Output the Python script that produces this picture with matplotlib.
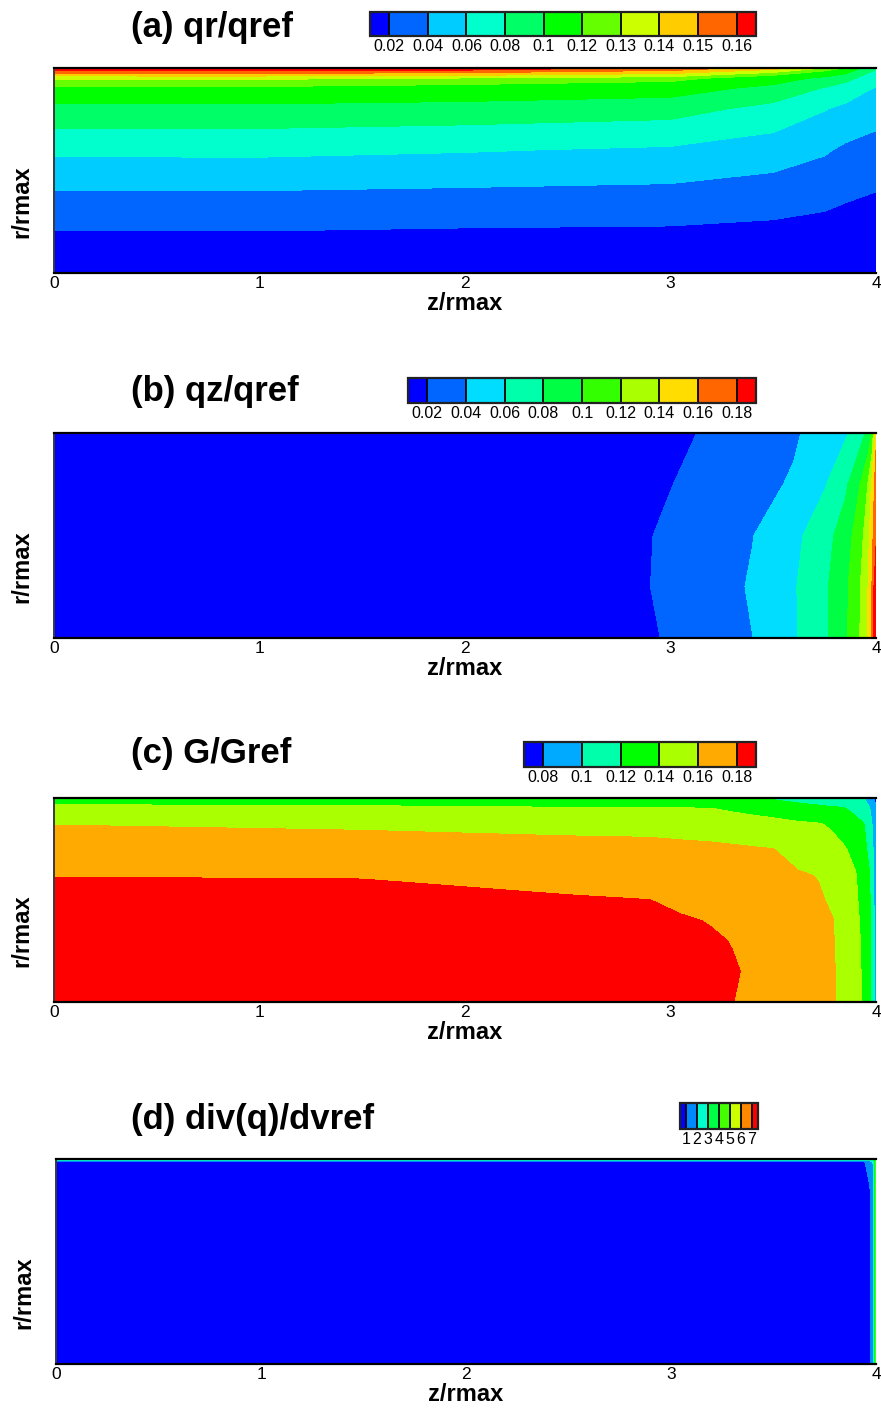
import numpy as np
import matplotlib
matplotlib.use("Agg")
from matplotlib import pyplot as plt

plt.rcParams['font.family'] = ['Liberation Sans', 'DejaVu Sans']

# ---------------- (a) qr/qref ----------------
a_z = [0, 1, 2, 3, 3.5, 3.75, 3.85, 4.0]
a_r = [0, 0.2, 0.4, 0.6, 0.8, 0.9, 0.95, 1.0]
# one row per z station (values along r), transposed below
a_val_by_z = [
    [0, 0.0195, 0.0395, 0.0640, 0.0940, 0.1170, 0.1315, 0.170],
    [0, 0.0195, 0.0398, 0.0643, 0.0943, 0.1172, 0.1317, 0.170],
    [0, 0.0180, 0.0380, 0.0614, 0.0917, 0.1143, 0.1290, 0.168],
    [0, 0.0172, 0.0362, 0.0573, 0.0878, 0.1092, 0.1250, 0.158],
    [0, 0.0150, 0.0317, 0.0500, 0.0736, 0.0938, 0.1100, 0.145],
    [0, 0.0130, 0.0269, 0.0422, 0.0609, 0.0784, 0.0950, 0.130],
    [0, 0.0115, 0.0235, 0.0367, 0.0555, 0.0717, 0.0857, 0.120],
    [0, 0.0100, 0.0202, 0.0326, 0.0483, 0.0583, 0.0690, 0.082],
]
a_levels = [0.02, 0.04, 0.06, 0.08, 0.1, 0.12, 0.13, 0.14, 0.15, 0.16]
a_labels = ['0.02', '0.04', '0.06', '0.08', '0.1', '0.12', '0.13', '0.14', '0.15', '0.16']
a_colors = ['#0000ff', '#0066ff', '#00ccff', '#00ffcc', '#00ff66', '#00ff00',
            '#66ff00', '#ccff00', '#ffcc00', '#ff6600', '#ff0000']

# ---------------- (b) qz/qref ----------------
b_z = [0, 2.0, 2.9, 3.1, 3.4, 3.6, 3.75, 3.85, 3.92, 3.96, 3.98, 4.0]
b_r = [0, 0.25, 0.5, 0.75, 1.0]
b_val = [
    [0.004, 0.0148, 0.0178, 0.0266, 0.0399, 0.0574, 0.0764, 0.0957, 0.1192, 0.1401, 0.1601, 0.200],
    [0.004, 0.0150, 0.0199, 0.0282, 0.0417, 0.0582, 0.0766, 0.0953, 0.1181, 0.1389, 0.1601, 0.200],
    [0.004, 0.0150, 0.0194, 0.0274, 0.0396, 0.0550, 0.0720, 0.0902, 0.1107, 0.1312, 0.1538, 0.175],
    [0.004, 0.0146, 0.0158, 0.0232, 0.0344, 0.0419, 0.0584, 0.0756, 0.0992, 0.1201, 0.1433, 0.170],
    [0.004, 0.0142, 0.0170, 0.0190, 0.0302, 0.0376, 0.0480, 0.0572, 0.0705, 0.0842, 0.1018, 0.155],
]
b_levels = [0.02, 0.04, 0.06, 0.08, 0.1, 0.12, 0.14, 0.16, 0.18]
b_labels = ['0.02', '0.04', '0.06', '0.08', '0.1', '0.12', '0.14', '0.16', '0.18']
b_colors = ['#0000ff', '#0066ff', '#00ddff', '#00ffaa', '#00ff44', '#33ff00',
            '#aaff00', '#ffdd00', '#ff6600', '#ff0000']

# ---------------- (c) G/Gref ----------------
c_z = [0, 1.5, 2.5, 2.9, 3.05, 3.2, 3.3, 3.38, 3.5, 3.62, 3.72, 3.79, 3.84, 3.9,
       3.94, 3.97, 3.985, 4.0]
c_r = [0, 0.15, 0.3, 0.4, 0.5, 0.62, 0.75, 0.87, 0.95, 1.0]
c_val = [
    [0.196, 0.196, 0.194, 0.1900, 0.1864, 0.1828, 0.1803, 0.1774, 0.1726, 0.1678,
     0.1639, 0.1611, 0.1561, 0.1459, 0.1378, 0.1241, 0.1067, 0.095],
    [0.195, 0.195, 0.193, 0.1890, 0.1860, 0.1831, 0.1811, 0.1789, 0.1737, 0.1685,
     0.1642, 0.1612, 0.1561, 0.1458, 0.1373, 0.1236, 0.1060, 0.095],
    [0.191, 0.191, 0.189, 0.1860, 0.1837, 0.1814, 0.1796, 0.1765, 0.1719, 0.1673,
     0.1635, 0.1608, 0.1551, 0.1452, 0.1364, 0.1227, 0.1050, 0.095],
    [0.189, 0.189, 0.186, 0.1830, 0.1814, 0.1793, 0.1760, 0.1735, 0.1696, 0.1657,
     0.1625, 0.1603, 0.1536, 0.1444, 0.1352, 0.1222, 0.1046, 0.094],
    [0.186, 0.186, 0.1816, 0.1801, 0.1770, 0.1735, 0.1711, 0.1693, 0.1665, 0.1637,
     0.1614, 0.1583, 0.1514, 0.1431, 0.1329, 0.1212, 0.1029, 0.094],
    [0.1796, 0.179, 0.1742, 0.1730, 0.1706, 0.1682, 0.1666, 0.1653, 0.1634, 0.1615,
     0.1595, 0.1524, 0.1473, 0.1412, 0.1305, 0.1203, 0.1025, 0.093],
    [0.1694, 0.1684, 0.1658, 0.1652, 0.1643, 0.1635, 0.1624, 0.1615, 0.1602, 0.1542,
     0.1487, 0.1448, 0.1421, 0.1349, 0.1256, 0.1143, 0.1005, 0.092],
    [0.1598, 0.1574, 0.1550, 0.1543, 0.1528, 0.1513, 0.1500, 0.1487, 0.1461, 0.1431,
     0.1415, 0.1378, 0.1322, 0.1256, 0.1211, 0.1067, 0.0975, 0.090],
    [0.1437, 0.1426, 0.1411, 0.1408, 0.1404, 0.1401, 0.1371, 0.1347, 0.1312, 0.1276,
     0.1247, 0.1226, 0.1211, 0.1152, 0.1065, 0.1002, 0.0920, 0.085],
    [0.133, 0.132, 0.129, 0.128, 0.1275, 0.127, 0.1241, 0.1218, 0.1177, 0.1130,
     0.1091, 0.1064, 0.1045, 0.1021, 0.1006, 0.0914, 0.0829, 0.070],
]
c_levels = [0.08, 0.1, 0.12, 0.14, 0.16, 0.18]
c_labels = ['0.08', '0.1', '0.12', '0.14', '0.16', '0.18']
c_colors = ['#0000ff', '#00aaff', '#00ffaa', '#00ff00', '#aaff00', '#ffaa00', '#ff0000']

# ---------------- (d) div(q)/dvref ----------------
d_z = [0, 3.9, 3.94, 3.97, 3.985, 3.993, 4.0]
d_r = [0, 0.8, 0.9, 0.96, 0.985, 0.993, 1.0]
d_val = [
    [0.5, 0.5, 0.5, 0.8, 1.6, 2.8, 4.5],
    [0.5, 0.5, 0.5, 0.8, 1.6, 2.8, 4.5],
    [0.5, 0.5, 0.6, 1.1, 1.7, 2.8, 4.5],
    [0.5, 0.5, 0.8, 1.3, 1.8, 2.9, 4.5],
    [0.8, 0.8, 0.9, 1.4, 2.05, 3.05, 4.5],
    [2.1, 2.1, 2.1, 2.2, 2.4, 3.2, 4.5],
    [2.6, 2.6, 2.6, 2.6, 2.8, 3.5, 4.5],
]
d_levels = [1, 2, 3, 4, 5, 6, 7]
d_labels = ['1', '2', '3', '4', '5', '6', '7']
d_colors = ['#0000ff', '#0088ff', '#00ffcc', '#00ff44', '#44ff00', '#ccff00',
            '#ff8800', '#ff0000']

W, H = 881, 1410
fig = plt.figure(figsize=(W / 100, H / 100), dpi=100)


def px_box(x0, y0, x1, y1):
    # pixel box (top-left origin) -> figure fraction rect
    return [x0 / W, 1 - y1 / H, (x1 - x0) / W, (y1 - y0) / H]


panels = [
    # title, z, r, values, levels, labels, colors, axes box, cbar box, extendfrac, title y
    ('(a) qr/qref', a_z, a_r, np.array(a_val_by_z).T, a_levels, a_labels, a_colors,
     (54, 68, 876, 273), (370, 12, 756, 36), 0.5 / 9, 27),
    ('(b) qz/qref', b_z, b_r, np.array(b_val), b_levels, b_labels, b_colors,
     (54, 433, 876, 638), (408, 378, 756, 403), 0.5 / 8, 391),
    ('(c) G/Gref', c_z, c_r, np.array(c_val), c_levels, c_labels, c_colors,
     (54, 798, 876, 1002), (524, 742, 756, 767), 0.5 / 5, 754),
    ('(d) div(q)/dvref', d_z, d_r, np.array(d_val), d_levels, d_labels, d_colors,
     (56, 1159, 876, 1364), (680, 1103, 758, 1129), 0.55 / 6, 1119),
]

for title, zz, rr, vv, lev, labs, cols, abox, cbox, ef, ty in panels:
    ax = fig.add_axes(px_box(*abox))
    cf = ax.contourf(zz, rr, vv, levels=lev, colors=cols, extend='both',
                     antialiased=False)
    ax.set_xlim(0, 4)
    ax.set_ylim(0, 1)
    ax.set_xticks([0, 1, 2, 3, 4])
    ax.set_xticklabels(['0', '1', '2', '3', '4'])
    ax.set_yticks([])
    ax.tick_params(axis='x', length=0, pad=2, labelsize=12.5)
    for s in ['top', 'bottom']:
        ax.spines[s].set_linewidth(1.6)
        ax.spines[s].set_color('black')
    ax.spines['left'].set_linewidth(1.4)
    ax.spines['left'].set_color('#3a3a3a')
    ax.spines['right'].set_visible(False)
    ax.set_xlabel('z/rmax', fontsize=17, fontweight='bold', labelpad=1)
    ax.set_ylabel('r/rmax', fontsize=17, fontweight='bold')
    ax.yaxis.set_label_coords(-0.025, 0.35)

    cax = fig.add_axes(px_box(*cbox))
    cb = fig.colorbar(cf, cax=cax, orientation='horizontal', extendrect=True,
                      extendfrac=ef, drawedges=True, ticks=lev)
    cb.set_ticklabels(labs)
    cb.outline.set_linewidth(1.6)
    cb.outline.set_edgecolor('#222222')
    cb.dividers.set_color('black')
    cb.dividers.set_linewidth(1.3)
    cax.tick_params(length=0, pad=2, labelsize=11.5)

    fig.text(131 / W, 1 - ty / H, title, fontsize=25, fontweight='bold',
             ha='left', va='center')

fig.savefig('out.png', dpi=100)
